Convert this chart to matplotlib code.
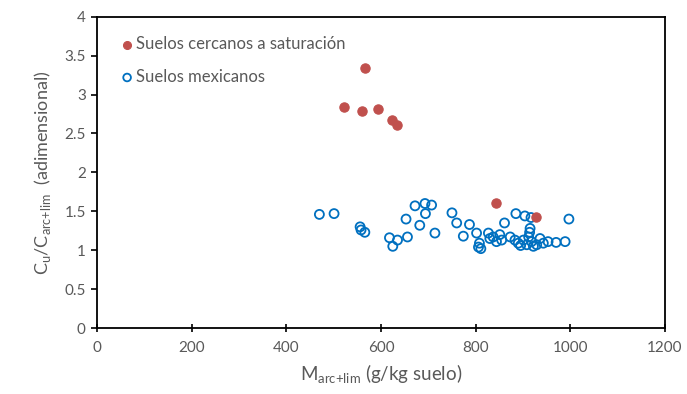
import matplotlib.pyplot as plt
from matplotlib.ticker import MultipleLocator

# Data
sat_x = [567, 522, 560, 594, 623, 634, 842, 928]
sat_y = [3.34, 2.84, 2.79, 2.81, 2.67, 2.61, 1.61, 1.43]

mex_x = [470, 501, 556, 558, 566, 618, 635, 625, 656, 653, 672, 693, 707, 694,
         682, 714, 750, 760, 787, 774, 802, 808, 806, 811, 827, 837, 851, 861,
         885, 904, 917, 915, 914, 997, 873, 883, 890, 901, 908, 918, 929, 936,
         943, 953, 970, 989, 844, 855, 830, 895, 922, 912]
mex_y = [1.46, 1.47, 1.30, 1.26, 1.23, 1.16, 1.13, 1.05, 1.17, 1.40, 1.57, 1.60,
         1.58, 1.47, 1.32, 1.22, 1.48, 1.35, 1.33, 1.18, 1.22, 1.09, 1.04, 1.02,
         1.22, 1.17, 1.20, 1.35, 1.47, 1.44, 1.42, 1.28, 1.23, 1.40, 1.17, 1.13,
         1.09, 1.13, 1.07, 1.11, 1.07, 1.15, 1.09, 1.11, 1.10, 1.11, 1.11, 1.13,
         1.15, 1.06, 1.05, 1.17]

plt.rcParams['font.family'] = ['Lato', 'DejaVu Sans']
grey = '#595959'

fig = plt.figure(figsize=(6.87, 3.94), dpi=100)
ax = fig.add_axes([0.141, 0.1675, 0.827, 0.79])

ax.scatter(sat_x, sat_y, s=45, color='#C0504D', edgecolors='#C0504D',
           linewidths=0.8, zorder=3, label='Suelos cercanos a saturación')
ax.scatter(mex_x, mex_y, s=42, facecolors='none', edgecolors='#0070C0',
           linewidths=1.3, zorder=2, label='Suelos mexicanos')

ax.set_xlim(0, 1200)
ax.set_ylim(0, 4)
ax.xaxis.set_major_locator(MultipleLocator(200))
ax.set_yticks([0, 0.5, 1, 1.5, 2, 2.5, 3, 3.5, 4])
ax.set_yticklabels(['0', '0.5', '1', '1.5', '2', '2.5', '3', '3.5', '4'])

for sp in ax.spines.values():
    sp.set_color('black')
    sp.set_linewidth(1.3)
ax.tick_params(axis='x', direction='inout', length=6, width=1.2,
               labelsize=11, labelcolor=grey, pad=6)
ax.tick_params(axis='y', direction='out', length=4, width=1.2,
               labelsize=11, labelcolor=grey, pad=4)

ax.set_xlabel(r'M$_{\mathregular{arc{+}lim}}$ (g/kg suelo)', fontsize=13.5,
              color=grey, labelpad=6)
ax.set_ylabel(r'C$_{\mathregular{u}}$/C$_{\mathregular{arc{+}lim}}$  (adimensional)',
              fontsize=13, color=grey, labelpad=8)

leg = ax.legend(loc='upper left', bbox_to_anchor=(0.018, 0.975), frameon=False,
                fontsize=12, labelspacing=1.0, handletextpad=0.05,
                handlelength=1.0, borderaxespad=0.3, markerscale=0.85)
for t in leg.get_texts():
    t.set_color(grey)

fig.savefig('out.png', dpi=100)
